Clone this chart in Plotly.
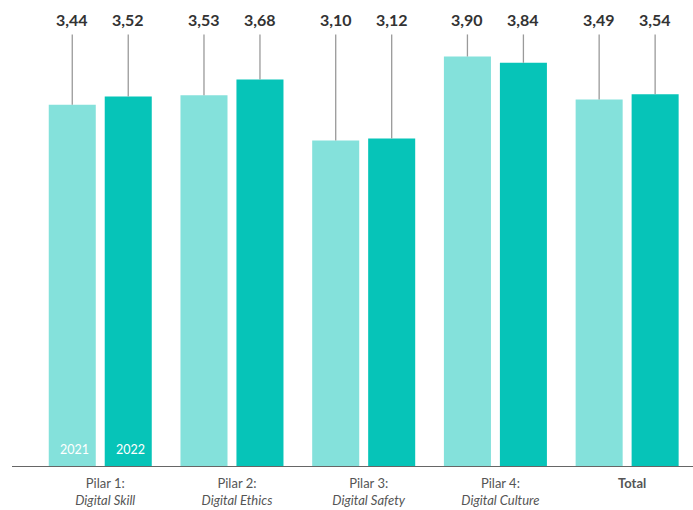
import plotly.graph_objects as go

categories = ["Pilar 1", "Pilar 2", "Pilar 3", "Pilar 4", "Total"]
tick_labels = [
    "Pilar 1:<br><i>Digital Skill</i>",
    "Pilar 2:<br><i>Digital Ethics</i>",
    "Pilar 3:<br><i>Digital Safety</i>",
    "Pilar 4:<br><i>Digital Culture</i>",
    "<b>Total</b>",
]
years = ["2021", "2022"]
values_2021 = [3.44, 3.53, 3.10, 3.90, 3.49]
values_2022 = [3.52, 3.68, 3.12, 3.84, 3.54]

colors = {"2021": "#84E1DB", "2022": "#06C4B8"}
series = {"2021": values_2021, "2022": values_2022}

BAR_W = 0.357
OFFSETS = {"2021": -0.391, "2022": 0.034}
LABEL_Y = 4.25
LEADER_TOP = 4.11

x_idx = list(range(len(categories)))

fig = go.Figure()

for yr in years:
    vals = series[yr]
    fig.add_trace(go.Bar(
        x=x_idx, y=vals, name=yr,
        width=BAR_W, offset=OFFSETS[yr],
        marker=dict(color=colors[yr], line=dict(width=0)),
        showlegend=False, hoverinfo="skip",
    ))

# leader lines from each bar top up to its value label
for yr in years:
    vals = series[yr]
    centre = OFFSETS[yr] + BAR_W / 2
    xs, ys = [], []
    for i, v in zip(x_idx, vals):
        xs += [i + centre, i + centre, None]
        ys += [v, LEADER_TOP, None]
    fig.add_trace(go.Scatter(
        x=xs, y=ys, mode="lines",
        line=dict(color="#9a9a9a", width=1.3),
        showlegend=False, hoverinfo="skip",
    ))
    for i, v in zip(x_idx, vals):
        fig.add_annotation(
            x=i + centre, y=LABEL_Y, text=f"<b>{v:.2f}</b>".replace(".", ","),
            showarrow=False, font=dict(family="Lato", size=16, color="#333333"),
            xanchor="center", yanchor="middle",
        )
    # year tag inside the first group
    fig.add_annotation(
        x=0 + centre, y=0.16, text=yr, showarrow=False, xshift=2,
        font=dict(family="Lato", size=12.5, color="#ffffff"),
        xanchor="center", yanchor="middle",
    )

fig.update_layout(
    width=693, height=510,
    margin=dict(l=12, r=0, t=4, b=44),
    paper_bgcolor="white", plot_bgcolor="white",
    barmode="overlay",
    xaxis=dict(
        range=[-0.67, 4.5], tickmode="array", tickvals=x_idx, ticktext=tick_labels,
        showline=True, linecolor="#666666", linewidth=1.4,
        showgrid=False, zeroline=False, ticks="",
        ticklabelstandoff=5, ticklabelshift=5,
        tickfont=dict(family="Lato", size=13, color="#555555"),
        fixedrange=True,
    ),
    yaxis=dict(
        range=[0, 4.4], visible=False, showgrid=False, zeroline=False, fixedrange=True,
    ),
)

fig.write_html("out.html")
